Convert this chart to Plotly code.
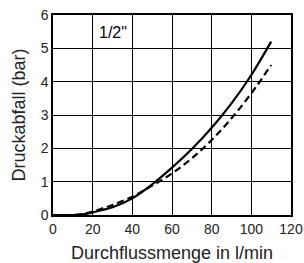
import plotly.graph_objects as go

flow = [0, 10, 15, 20, 25, 30, 40, 50, 60, 70, 80, 90, 100, 110]
solid_dp = [0, 0, 0.02, 0.08, 0.15, 0.23, 0.5, 0.92, 1.42, 1.98, 2.62, 3.35, 4.2, 5.2]
dashed_dp = [0, 0, 0.03, 0.1, 0.2, 0.3, 0.55, 0.88, 1.25, 1.7, 2.25, 2.9, 3.65, 4.5]
x_ticks = [0, 20, 40, 60, 80, 100, 120]
y_ticks = [0, 1, 2, 3, 4, 5, 6]
label = '1/2"'

font = "Liberation Sans, Arial, Helvetica, sans-serif"

fig = go.Figure()
fig.add_trace(go.Scatter(x=flow, y=solid_dp, mode="lines", line=dict(color="black", width=2.2, shape="spline"), showlegend=False))
fig.add_trace(go.Scatter(x=flow, y=dashed_dp, mode="lines", line=dict(color="black", width=2.2, dash="7px,4px", shape="spline"), showlegend=False))

fig.add_annotation(x=30.2, y=5.48, text=label, showarrow=False, font=dict(family=font, size=16, color="black"))

fig.update_layout(
    width=304, height=263,
    margin=dict(l=53, r=13, t=15, b=48),
    paper_bgcolor="white", plot_bgcolor="white",
    font=dict(family=font, color="#222"),
)
fig.update_xaxes(
    range=[0, 120], tickvals=x_ticks, ticktext=[str(v) for v in x_ticks],
    showgrid=True, gridcolor="black", gridwidth=1,
    showline=True, linecolor="black", linewidth=1.5, mirror=True,
    zeroline=False, ticks="", tickfont=dict(size=14, color="#222"), automargin=False,
    title=dict(text="Durchflussmenge in l/min", font=dict(size=18, color="#222"), standoff=16),
)
fig.update_yaxes(
    range=[0, 6], tickvals=y_ticks,
    showgrid=True, gridcolor="black", gridwidth=1,
    showline=True, linecolor="black", linewidth=1.5, mirror=True,
    zeroline=False, ticks="", tickfont=dict(size=14, color="#222"), automargin=False,
    title=dict(text="Druckabfall (bar)", font=dict(size=18, color="#222"), standoff=10),
)

fig.write_html("out.html", config={"displayModeBar": False},
               post_script="document.body.style.margin='0';document.body.style.overflow='hidden';")
